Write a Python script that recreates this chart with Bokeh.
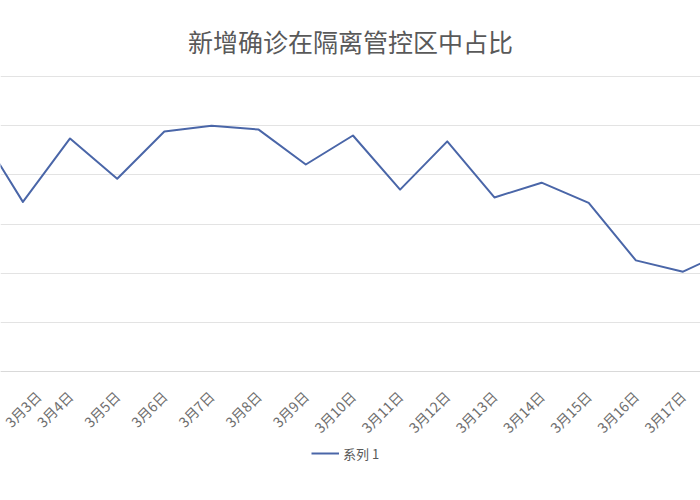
from bokeh.plotting import figure
from bokeh.models import Range1d, FixedTicker, Legend, LegendItem, Title
from bokeh.embed import file_html
from bokeh.resources import INLINE
import math

# ---- data ----
categories = ["3月2日", "3月3日", "3月4日", "3月5日", "3月6日", "3月7日", "3月8日", "3月9日",
              "3月10日", "3月11日", "3月12日", "3月13日", "3月14日", "3月15日", "3月16日",
              "3月17日", "3月18日"]
series1 = [0.900, 0.745, 0.874, 0.792, 0.888, 0.900, 0.892, 0.821,
           0.880, 0.770, 0.868, 0.754, 0.784, 0.743, 0.626, 0.603, 0.648]
grid_ticks = [0.4, 0.5, 0.6, 0.7, 0.8, 0.9, 1.0]
axis_base = 0.4
title_text = "新增确诊在隔离管控区中占比"
series_name = "系列 1"

FONT = "Noto Sans CJK SC"
GRAY = "#595959"

xs = list(range(len(categories)))

p = figure(frame_width=700, frame_height=426, output_backend="svg", toolbar_location=None,
           x_range=Range1d(0.525, 15.371), y_range=Range1d(0.1378, 1.004),
           min_border_left=0, min_border_right=0, min_border_top=74, min_border_bottom=0)

p.title = Title(text=title_text, align="center", text_font=FONT, text_font_size="25px",
                text_color=GRAY, text_font_style="normal", standoff=32, offset=0)

line = p.line(xs, series1, line_color="#4A66A8", line_width=2, line_join="round")

p.yaxis.visible = False
p.ygrid.ticker = FixedTicker(ticks=grid_ticks)
p.ygrid.grid_line_color = "#E3E3E3"
p.ygrid.grid_line_width = 1
p.xgrid.visible = False
p.outline_line_color = None

p.xaxis.fixed_location = axis_base
p.xaxis.ticker = FixedTicker(ticks=xs)
p.xaxis.major_label_overrides = {i: c for i, c in enumerate(categories)}
p.xaxis.major_label_orientation = math.pi / 4
p.xaxis.major_label_text_font = FONT
p.xaxis.major_label_text_font_size = "14px"
p.xaxis.major_label_text_color = "#6E6E6E"
p.xaxis.major_tick_line_color = None
p.xaxis.minor_tick_line_color = None
p.xaxis.axis_line_color = "#D9D9D9"
p.xaxis.major_label_standoff = 16

legend = Legend(items=[LegendItem(label=series_name, renderers=[line])],
                orientation="horizontal", location=(311, 37),
                label_text_font=FONT, label_text_font_size="13px", label_text_color=GRAY,
                glyph_width=28, border_line_color=None, background_fill_alpha=0,
                margin=0, padding=4, label_standoff=4)
p.add_layout(legend, "center")

open("out.html", "w").write(file_html(p, INLINE))
